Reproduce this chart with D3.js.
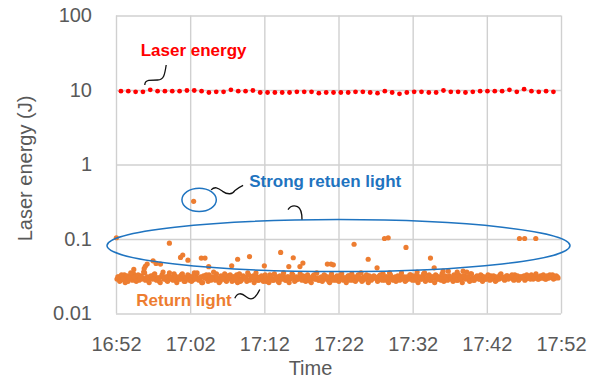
<!DOCTYPE html>
<html>
<head>
<meta charset="utf-8">
<script src="https://cdn.jsdelivr.net/npm/d3@7"></script>
<style>
  body { margin: 0; background: #fff; }
  svg { display: block; font-family: "Liberation Sans", Arial, sans-serif; }
</style>
</head>
<body>
<div id="chart"></div>
<script>
// ---- data ----
const xTickLabels = ['16:52', '17:02', '17:12', '17:22', '17:32', '17:42', '17:52'];
const yTickValues = [0.01, 0.1, 1, 10, 100];

// laser energy (J), one shot about every 59 s from 16:52:40
const laserStart = '16:52:40';
const laserStepSec = 59.3;
const laserValues = [
  9.64, 9.64, 9.45, 9.45, 10.05, 9.64, 9.64, 9.64, 9.64, 9.85,
  9.85, 9.64, 9.25, 9.45, 9.45, 10.05, 9.64, 9.64, 9.85, 9.25,
  9.25, 9.25, 9.25, 9.25, 9.45, 9.45, 9.45, 9.07, 9.25, 9.25,
  9.25, 9.25, 9.45, 9.45, 9.25, 9.07, 9.64, 9.25, 8.88, 9.25,
  9.45, 9.45, 9.25, 9.25, 9.85, 9.45, 9.45, 9.25, 9.45, 9.64,
  9.64, 9.64, 9.64, 10.05, 9.45, 10.26, 9.64, 9.45, 9.64, 9.45
];

// return light (J), two interleaved sample runs, each about every 15 s
const returnStepSec = 14.9;
const returnStartA = '16:52:08';
const returnA = [
  0.029, 0.031, 0.028, 0.030, 0.033, 0.029, 0.027, 0.031, 0.030, 0.034, 0.029, 0.031, 0.028, 0.032, 0.030, 0.035, 0.029, 0.028, 0.031, 0.030,
  0.033, 0.029, 0.030, 0.027, 0.031, 0.036, 0.030, 0.028, 0.032, 0.029, 0.031, 0.034, 0.028, 0.030, 0.029, 0.033, 0.031, 0.027, 0.030, 0.032,
  0.030, 0.028, 0.035, 0.031, 0.029, 0.030, 0.026, 0.032, 0.030, 0.029, 0.033, 0.028, 0.031, 0.030, 0.034, 0.029, 0.027, 0.031, 0.030, 0.028,
  0.032, 0.030, 0.029, 0.031, 0.028, 0.033, 0.030, 0.027, 0.029, 0.031, 0.030, 0.035, 0.028, 0.030, 0.032, 0.029, 0.031, 0.028, 0.030, 0.029,
  0.031, 0.027, 0.030, 0.033, 0.029, 0.028, 0.030, 0.031, 0.026, 0.029, 0.032, 0.030, 0.028, 0.031, 0.029, 0.034, 0.030, 0.028, 0.029, 0.031,
  0.030, 0.032, 0.028, 0.029, 0.031, 0.027, 0.030, 0.033, 0.029, 0.030, 0.028, 0.031, 0.029, 0.032, 0.030, 0.027, 0.029, 0.031, 0.030, 0.028,
  0.029, 0.031, 0.034, 0.028, 0.030, 0.029, 0.032, 0.030, 0.028, 0.031, 0.029, 0.033, 0.030, 0.027, 0.031, 0.029, 0.030, 0.032, 0.028, 0.030,
  0.031, 0.029, 0.030, 0.033, 0.028, 0.030, 0.031, 0.029, 0.035, 0.030, 0.028, 0.031, 0.029, 0.030, 0.032, 0.029, 0.031, 0.028, 0.030, 0.033,
  0.029, 0.030, 0.028, 0.032, 0.030, 0.029, 0.031, 0.034, 0.029, 0.030, 0.028, 0.031, 0.030, 0.033, 0.029, 0.031, 0.028, 0.030, 0.032, 0.029,
  0.031, 0.030, 0.029, 0.033, 0.030, 0.028, 0.031, 0.029, 0.032, 0.030, 0.031, 0.029, 0.034, 0.030, 0.028, 0.031, 0.030, 0.029, 0.032, 0.030,
  0.029, 0.031, 0.030, 0.032, 0.029, 0.031, 0.028, 0.030, 0.033, 0.031, 0.029, 0.030, 0.032, 0.030, 0.031, 0.029, 0.033, 0.030, 0.028, 0.031,
  0.030, 0.032, 0.029, 0.031, 0.030, 0.033, 0.029, 0.030, 0.031, 0.029, 0.032, 0.030, 0.031, 0.029, 0.030, 0.033, 0.031, 0.029, 0.030, 0.031
];
const returnStartB = '16:52:15';
const returnB = [
  0.031, 0.027, 0.033, 0.029, 0.026, 0.032, 0.030, 0.035, 0.028, 0.031, 0.027, 0.033, 0.030, 0.029, 0.036, 0.028, 0.031, 0.026, 0.032, 0.029,
  0.034, 0.028, 0.030, 0.026, 0.033, 0.029, 0.031, 0.027, 0.035, 0.030, 0.028, 0.032, 0.026, 0.031, 0.029, 0.034, 0.027, 0.030, 0.033, 0.028,
  0.027, 0.032, 0.029, 0.035, 0.028, 0.031, 0.026, 0.030, 0.033, 0.027, 0.031, 0.029, 0.036, 0.028, 0.030, 0.026, 0.032, 0.029, 0.034, 0.027,
  0.030, 0.033, 0.027, 0.031, 0.029, 0.026, 0.034, 0.028, 0.032, 0.030, 0.027, 0.033, 0.029, 0.031, 0.026, 0.035, 0.028, 0.030, 0.032, 0.027,
  0.033, 0.029, 0.026, 0.031, 0.028, 0.034, 0.030, 0.027, 0.032, 0.029, 0.035, 0.028, 0.031, 0.026, 0.030, 0.033, 0.027, 0.031, 0.029, 0.034,
  0.028, 0.031, 0.027, 0.033, 0.030, 0.026, 0.032, 0.029, 0.035, 0.028, 0.030, 0.027, 0.033, 0.029, 0.031, 0.026, 0.034, 0.028, 0.030, 0.032,
  0.027, 0.033, 0.029, 0.030, 0.026, 0.032, 0.028, 0.034, 0.030, 0.027, 0.031, 0.029, 0.035, 0.028, 0.030, 0.033, 0.026, 0.031, 0.029, 0.032,
  0.030, 0.027, 0.032, 0.029, 0.034, 0.028, 0.031, 0.026, 0.033, 0.029, 0.030, 0.027, 0.032, 0.028, 0.035, 0.030, 0.027, 0.031, 0.029, 0.033,
  0.028, 0.032, 0.030, 0.026, 0.031, 0.029, 0.034, 0.027, 0.030, 0.033, 0.028, 0.031, 0.026, 0.032, 0.029, 0.030, 0.034, 0.027, 0.031, 0.028,
  0.032, 0.029, 0.027, 0.031, 0.028, 0.033, 0.030, 0.026, 0.032, 0.029, 0.031, 0.027, 0.034, 0.028, 0.030, 0.032, 0.029, 0.033, 0.027, 0.031,
  0.029, 0.033, 0.028, 0.030, 0.032, 0.027, 0.031, 0.029, 0.034, 0.030, 0.028, 0.032, 0.029, 0.031, 0.033, 0.028, 0.030, 0.032, 0.029, 0.031,
  0.031, 0.028, 0.033, 0.030, 0.029, 0.032, 0.030, 0.034, 0.029, 0.031, 0.030, 0.033, 0.029, 0.032, 0.030, 0.031, 0.033, 0.030, 0.032, 0.030
];

// return light points above the band
const returnPeaks = [
  ['16:52:03', 0.104], ['16:54:24', 0.039], ['16:55:48', 0.040], ['16:55:57', 0.043],
  ['16:56:12', 0.046], ['16:57:00', 0.051], ['16:57:24', 0.047], ['16:58:00', 0.046],
  ['16:59:12', 0.088], ['17:00:42', 0.0565], ['17:01:00', 0.061], ['17:01:42', 0.052],
  ['17:02:28', 0.32], ['17:03:30', 0.0555], ['17:04:00', 0.0555], ['17:04:30', 0.0425],
  ['17:07:36', 0.0436], ['17:08:24', 0.0535], ['17:10:00', 0.058], ['17:12:00', 0.0436],
  ['17:14:12', 0.066], ['17:15:18', 0.0426], ['17:15:54', 0.056], ['17:16:48', 0.0426],
  ['17:17:12', 0.0475], ['17:20:30', 0.046], ['17:21:00', 0.046], ['17:21:18', 0.045],
  ['17:24:06', 0.085], ['17:26:00', 0.0535], ['17:27:12', 0.041], ['17:28:12', 0.1015],
  ['17:28:42', 0.1036], ['17:31:06', 0.077], ['17:32:36', 0.036], ['17:33:36', 0.035],
  ['17:34:24', 0.0555], ['17:34:54', 0.041], ['17:36:06', 0.037], ['17:36:48', 0.037],
  ['17:38:00', 0.036], ['17:38:48', 0.037], ['17:39:18', 0.036],
  ['17:46:24', 0.1015], ['17:47:06', 0.1015], ['17:48:36', 0.1015]
];

// ---- chart ----
const width = 597, height = 382;
const margin = { top: 15.5, right: 36, bottom: 68.5, left: 116 };
const w = width - margin.left - margin.right;
const h = height - margin.top - margin.bottom;

const parseT = d3.timeParse('%H:%M:%S');
const parseHM = d3.timeParse('%H:%M');
const xTicks = xTickLabels.map(parseHM);

const x = d3.scaleTime().domain([xTicks[0], xTicks[xTicks.length - 1]]).range([0, w]);
const y = d3.scaleLog().domain([0.01, 100]).range([h, 0]);

const run = (start, stepSec, values) => {
  const t0 = parseT(start);
  return values.map((v, i) => ({ t: new Date(+t0 + i * stepSec * 1000), v }));
};

const laser = run(laserStart, laserStepSec, laserValues);
const returns = run(returnStartA, returnStepSec, returnA)
  .concat(run(returnStartB, returnStepSec, returnB))
  .concat(returnPeaks.map(([t, v]) => ({ t: parseT(t), v })));

const svg = d3.select('#chart').append('svg')
  .attr('width', width)
  .attr('height', height);

const g = svg.append('g').attr('transform', `translate(${margin.left},${margin.top})`);

const gridColor = '#d0d0d0';
const textColor = '#595959';

// y axis + horizontal grid
const yAxis = g.append('g')
  .call(d3.axisLeft(y).tickValues(yTickValues).tickSize(-w).tickPadding(24).tickFormat(d3.format('~g')));
yAxis.select('.domain').remove();
yAxis.selectAll('line').attr('stroke', gridColor).attr('stroke-width', 1.4);
yAxis.selectAll('text').attr('fill', textColor).attr('font-size', 20);

// x axis + vertical grid
const xAxis = g.append('g')
  .attr('transform', `translate(0,${h})`)
  .call(d3.axisBottom(x).tickValues(xTicks).tickSize(-h).tickPadding(23.5).tickFormat(d3.timeFormat('%H:%M')));
xAxis.select('.domain').remove();
xAxis.selectAll('line').attr('stroke', gridColor).attr('stroke-width', 1.4);
xAxis.selectAll('text').attr('fill', textColor).attr('font-size', 20);

// axis titles
svg.append('text')
  .attr('x', 310.5).attr('y', 375)
  .attr('text-anchor', 'middle')
  .attr('fill', textColor).attr('font-size', 20)
  .text('Time');

svg.append('text')
  .attr('transform', `translate(31.5,${margin.top + h / 2 + 4}) rotate(-90)`)
  .attr('text-anchor', 'middle')
  .attr('fill', textColor).attr('font-size', 20)
  .text('Laser energy (J)');

// return light dots
g.append('g').selectAll('circle')
  .data(returns)
  .enter().append('circle')
  .attr('cx', d => x(d.t))
  .attr('cy', d => y(d.v))
  .attr('r', 2.6)
  .attr('fill', '#ed7d31');

// laser dots
g.append('g').selectAll('circle')
  .data(laser)
  .enter().append('circle')
  .attr('cx', d => x(d.t))
  .attr('cy', d => y(d.v))
  .attr('r', 2.4)
  .attr('fill', '#ff0000');

// ---- annotations ----
const blue = '#1f74c0';
const at = (t, v) => `translate(${x(parseT(t))},${y(v)})`;

// laser energy label
const laserNote = g.append('g').attr('transform', at('16:55:40', 10));
laserNote.append('path')
  .attr('d', 'M23,-25 C21.5,-15 20.5,-10 14.5,-10 L5.5,-9.6 C2.5,-9 1.6,-7 1.6,-5')
  .attr('fill', 'none').attr('stroke', '#111').attr('stroke-width', 1.3);
laserNote.append('text')
  .attr('x', -2.5).attr('y', -34.5)
  .attr('fill', '#ff0000').attr('font-size', 17).attr('font-weight', 'bold')
  .text('Laser energy');

// strong return light
const strongNote = g.append('g').attr('transform', at('17:02:28', 0.32));
strongNote.append('ellipse')
  .attr('cx', 5.5).attr('cy', -1.5).attr('rx', 17.2).attr('ry', 11.7)
  .attr('fill', 'none').attr('stroke', blue).attr('stroke-width', 1.5);
strongNote.append('path')
  .attr('d', 'M17.5,-11.5 C21,-15 24,-14 29,-10 C34,-6.5 39,-7 41,-10.5 C44,-13 46,-14.5 49.5,-16')
  .attr('fill', 'none').attr('stroke', '#111').attr('stroke-width', 1.3);
strongNote.append('text')
  .attr('x', 55.5).attr('y', -14)
  .attr('fill', blue).attr('font-size', 17).attr('font-weight', 'bold')
  .text('Strong retuen light');

const bandNote = g.append('g').attr('transform', at('17:22:00', 0.0815));
bandNote.append('ellipse')
  .attr('cx', 0).attr('cy', 0).attr('rx', 231.5).attr('ry', 26)
  .attr('fill', 'none').attr('stroke', blue).attr('stroke-width', 1.5);
bandNote.append('path')
  .attr('d', 'M-36.5,-26 C-36.5,-31 -37,-37 -41,-39 C-45,-40.5 -48.5,-39 -50.5,-36')
  .attr('fill', 'none').attr('stroke', '#111').attr('stroke-width', 1.3);

// return light label
const returnNote = g.append('g').attr('transform', at('16:52:00', 0.01));
returnNote.append('text')
  .attr('x', 20.3).attr('y', -7.5)
  .attr('fill', '#ed7d31').attr('font-size', 17).attr('font-weight', 'bold')
  .text('Return light');
returnNote.append('path')
  .attr('d', 'M118.8,-15.3 C121.5,-21.5 125.5,-20.5 130.5,-16.5 C135.5,-12.5 139.5,-15 143.8,-24')
  .attr('fill', 'none').attr('stroke', '#111').attr('stroke-width', 1.3);
</script>
</body>
</html>
